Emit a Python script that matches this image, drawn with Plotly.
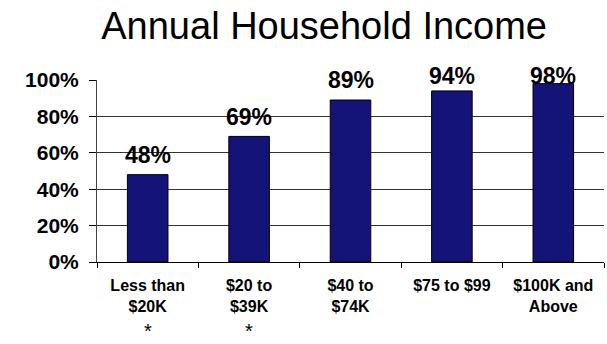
import plotly.graph_objects as go

# Share of households by annual income bracket
categories = ["Less than<br>$20K", "$20 to<br>$39K", "$40 to<br>$74K", "$75 to $99", "$100K and<br>Above"]
values = [0.48, 0.69, 0.89, 0.94, 0.98]
value_labels = ["48%", "69%", "89%", "94%", "98%"]
starred = ["Less than<br>$20K", "$20 to<br>$39K"]
y_ticks = [0, 0.2, 0.4, 0.6, 0.8, 1.0]
y_tick_labels = ["0%", "20%", "40%", "60%", "80%", "100%"]

FONT = "Liberation Sans, Arial, sans-serif"
PLOT_H = 344 - 80 - 82
Y_MAX = 1.0  # y axis spans 0..Y_MAX, so paper fraction = value / Y_MAX

fig = go.Figure(
    go.Bar(
        x=categories,
        y=values,
        width=0.4,
        marker=dict(color="#141478", line=dict(color="black", width=1)),
        hoverinfo="x+y",
    )
)

# value labels above each bar, held down near the top of the axis
for cat, v, lab in zip(categories, values, value_labels):
    fig.add_annotation(
        x=cat, y=min(v + 0.108, 1.02) / Y_MAX, xref="x", yref="paper",
        text=lab, showarrow=False, yanchor="middle",
        font=dict(family=FONT, size=23, color="black", weight="bold"),
    )

# asterisks marking the lower brackets, kept inside the bottom edge
for cat in starred:
    fig.add_annotation(
        x=cat, y=-(344 - 262 - 1) / PLOT_H, xref="x", yref="paper",
        text="*", showarrow=False, yanchor="bottom", borderpad=0,
        font=dict(family=FONT, size=20, color="black"),
    )

fig.update_layout(
    width=607, height=344,
    margin=dict(l=97, r=3, t=80, b=82),
    paper_bgcolor="white", plot_bgcolor="white",
    showlegend=False,
    title=dict(
        text="Annual Household Income",
        x=0.534, xref="container", xanchor="center",
        y=1 - 26 / 344, yref="container", yanchor="middle",
        font=dict(family=FONT, size=38, color="black"),
    ),
    bargap=0.6,
)

fig.update_xaxes(
    showline=True, linecolor="black", linewidth=1,
    ticks="outside", tickson="boundaries", ticklen=5, tickcolor="black",
    tickfont=dict(family=FONT, size=16, color="black", weight="bold"),
    ticklabelstandoff=9,
    showgrid=False,
)
fig.update_yaxes(
    range=[0, Y_MAX], tickvals=y_ticks, ticktext=y_tick_labels,
    showline=True, linecolor="#444", linewidth=1,
    ticks="outside", ticklen=7, tickcolor="black",
    tickfont=dict(family=FONT, size=21, color="black", weight="bold"),
    ticklabelstandoff=6,
    showgrid=True, gridcolor="#333", gridwidth=1,
    zeroline=False,
)

fig.write_html("out.html")
